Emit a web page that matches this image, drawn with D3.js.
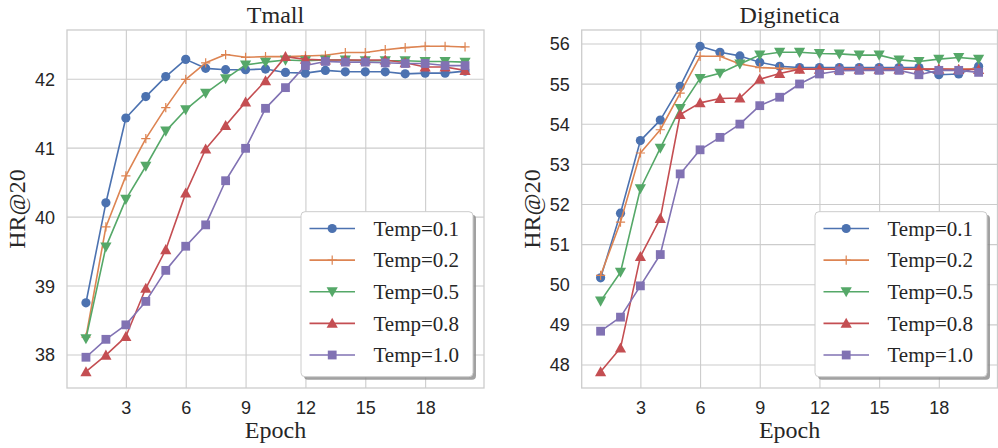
<!DOCTYPE html>
<html>
<head>
<meta charset="utf-8">
<script src="https://cdn.jsdelivr.net/npm/d3@7"></script>
<style>
  html, body { margin: 0; padding: 0; background: #fff; }
  svg { display: block; }
</style>
</head>
<body>
<svg id="chart" width="998" height="448"></svg>
<script>
// ---- data ----
const epochs = [1,2,3,4,5,6,7,8,9,10,11,12,13,14,15,16,17,18,19,20];
const seriesNames = ["Temp=0.1", "Temp=0.2", "Temp=0.5", "Temp=0.8", "Temp=1.0"];
const xTicks = [3, 6, 9, 12, 15, 18];
const tmallTicks = [38, 39, 40, 41, 42];
const digiTicks = [48, 49, 50, 51, 52, 53, 54, 55, 56];

const tmallT01 = [38.75, 40.20, 41.43, 41.74, 42.03, 42.28, 42.15, 42.13, 42.13, 42.14, 42.09, 42.08, 42.12, 42.10, 42.10, 42.10, 42.07, 42.08, 42.08, 42.11];
const tmallT02 = [38.25, 39.85, 40.59, 41.13, 41.58, 41.99, 42.23, 42.35, 42.31, 42.32, 42.32, 42.33, 42.34, 42.38, 42.38, 42.42, 42.45, 42.47, 42.47, 42.46];
const tmallT05 = [38.23, 39.56, 40.25, 40.73, 41.24, 41.55, 41.79, 42.00, 42.20, 42.24, 42.27, 42.26, 42.27, 42.27, 42.26, 42.26, 42.26, 42.25, 42.25, 42.24];
const tmallT08 = [37.75, 37.99, 38.26, 38.96, 39.52, 40.34, 40.98, 41.32, 41.66, 41.97, 42.32, 42.28, 42.27, 42.27, 42.27, 42.27, 42.23, 42.17, 42.17, 42.12];
const tmallT10 = [37.96, 38.22, 38.43, 38.77, 39.22, 39.57, 39.88, 40.52, 40.99, 41.57, 41.87, 42.19, 42.25, 42.24, 42.24, 42.23, 42.22, 42.22, 42.19, 42.19];

const digiT01 = [50.16, 51.77, 53.58, 54.09, 54.93, 55.93, 55.78, 55.69, 55.53, 55.43, 55.40, 55.40, 55.40, 55.40, 55.40, 55.40, 55.40, 55.22, 55.24, 55.43];
const digiT02 = [50.22, 51.55, 53.27, 53.85, 54.76, 55.68, 55.68, 55.49, 55.40, 55.38, 55.36, 55.36, 55.36, 55.36, 55.36, 55.36, 55.36, 55.36, 55.36, 55.37];
const digiT05 = [49.58, 50.30, 52.38, 53.39, 54.38, 55.13, 55.26, 55.49, 55.71, 55.78, 55.78, 55.75, 55.74, 55.71, 55.71, 55.59, 55.55, 55.61, 55.65, 55.61];
const digiT08 = [47.82, 48.41, 50.69, 51.64, 54.23, 54.52, 54.63, 54.64, 55.11, 55.25, 55.36, 55.36, 55.36, 55.36, 55.36, 55.36, 55.36, 55.36, 55.35, 55.35];
const digiT10 = [48.83, 49.18, 49.96, 50.74, 52.75, 53.35, 53.66, 53.99, 54.45, 54.66, 54.99, 55.24, 55.32, 55.33, 55.33, 55.33, 55.22, 55.33, 55.33, 55.28];

const colors = ["#4C72B0", "#DD8452", "#55A868", "#C44E52", "#8172B3"];
const markers = ["circle", "plus", "tridown", "triup", "square"];

const svg = d3.select("#chart");
const SERIF = "'Liberation Serif', 'Times New Roman', serif";
const SANS = "'Liberation Sans', Arial, sans-serif";
const TEXT = "#262626";
const GRID = "#cccccc";

function drawMarker(g, type, x, y, color) {
  if (type === "circle") {
    g.append("circle").attr("cx", x).attr("cy", y).attr("r", 4.6).attr("fill", color);
  } else if (type === "square") {
    g.append("rect").attr("x", x - 4.4).attr("y", y - 4.4).attr("width", 8.8).attr("height", 8.8).attr("fill", color);
  } else if (type === "triup") {
    const s = 5.6;
    g.append("path").attr("d", `M${x},${y - s}L${x + s},${y + s * 0.8}L${x - s},${y + s * 0.8}Z`).attr("fill", color);
  } else if (type === "tridown") {
    const s = 5.6;
    g.append("path").attr("d", `M${x},${y + s}L${x + s},${y - s * 0.8}L${x - s},${y - s * 0.8}Z`).attr("fill", color);
  } else if (type === "plus") {
    const s = 4.6;
    g.append("path").attr("d", `M${x - s},${y}L${x + s},${y}M${x},${y - s}L${x},${y + s}`)
      .attr("stroke", color).attr("stroke-width", 1.2).attr("fill", "none");
  }
}

function panel(opts) {
  const { left, right, top, bottom, title, yTicks, series } = opts;
  const all = series.flat();
  const mn = d3.min(all), mx = d3.max(all);
  const pad = (mx - mn) * 0.05;
  const x = d3.scaleLinear().domain([0.05, 20.95]).range([left, right]);
  const y = d3.scaleLinear().domain([mn - pad, mx + pad]).range([bottom, top]);
  const g = svg.append("g");

  // grid
  const xAxis = d3.axisBottom(x).tickValues(xTicks).tickSize(-(bottom - top)).tickPadding(13).tickFormat(d3.format("d"));
  const yAxis = d3.axisLeft(y).tickValues(yTicks).tickSize(-(right - left)).tickPadding(12).tickFormat(d3.format("d"));
  const gx = g.append("g").attr("transform", `translate(0,${bottom})`).call(xAxis);
  const gy = g.append("g").attr("transform", `translate(${left},0)`).call(yAxis);
  [gx, gy].forEach(a => {
    a.select(".domain").remove();
    a.selectAll(".tick line").attr("stroke", GRID).attr("stroke-width", 1.1);
    a.selectAll(".tick text").attr("fill", TEXT).attr("font-family", SANS).attr("font-size", 18);
  });
  gx.selectAll(".tick text").attr("dy", "0.71em");
  gy.selectAll(".tick text").attr("dy", "0.36em");

  // frame
  g.append("rect").attr("x", left).attr("y", top).attr("width", right - left).attr("height", bottom - top)
    .attr("fill", "none").attr("stroke", GRID).attr("stroke-width", 1.3);

  // lines
  const clipId = "clip" + Math.round(left);
  svg.append("clipPath").attr("id", clipId).append("rect")
    .attr("x", left - 8).attr("y", top - 8).attr("width", right - left + 16).attr("height", bottom - top + 16);
  const lg = g.append("g").attr("clip-path", `url(#${clipId})`);
  const line = d3.line().x((d, i) => x(epochs[i])).y(d => y(d));
  series.forEach((s, k) => {
    lg.append("path").datum(s).attr("d", line).attr("fill", "none")
      .attr("stroke", colors[k]).attr("stroke-width", 1.6).attr("stroke-linejoin", "round");
    s.forEach((v, i) => drawMarker(lg, markers[k], x(epochs[i]), y(v), colors[k]));
  });

  // title and labels
  const cx = (left + right) / 2;
  g.append("text").attr("x", cx).attr("y", 22.5).attr("text-anchor", "middle")
    .attr("font-family", SERIF).attr("font-size", 24).attr("fill", TEXT).text(title);
  g.append("text").attr("x", cx).attr("y", 437.5).attr("text-anchor", "middle")
    .attr("font-family", SERIF).attr("font-size", 24).attr("fill", TEXT).text("Epoch");
  g.append("text").attr("transform", `translate(${left - 42},${(top + bottom) / 2}) rotate(-90)`)
    .attr("text-anchor", "middle").attr("font-family", SERIF).attr("font-size", 24).attr("fill", TEXT).text("HR@20");

  // legend
  const lx = opts.legendX, lw = opts.legendW, ly = 211.7, lh = 165;
  const leg = g.append("g");
  leg.append("rect").attr("x", lx + 3).attr("y", ly + 3).attr("width", lw).attr("height", lh).attr("rx", 4)
    .attr("fill", "#8a8a8a").attr("opacity", 0.8);
  leg.append("rect").attr("x", lx).attr("y", ly).attr("width", lw).attr("height", lh).attr("rx", 4)
    .attr("fill", "#ffffff").attr("stroke", GRID).attr("stroke-width", 1);
  const rowY = d3.scaleLinear().domain([0, 4]).range([228.5, 355]);
  seriesNames.forEach((name, k) => {
    const ry = rowY(k);
    leg.append("line").attr("x1", lx + 8.5).attr("x2", lx + 54).attr("y1", ry).attr("y2", ry)
      .attr("stroke", colors[k]).attr("stroke-width", 1.6);
    drawMarker(leg, markers[k], lx + 31.2, ry, colors[k]);
    leg.append("text").attr("x", lx + 72.5).attr("y", ry + 7.2).attr("font-family", SERIF)
      .attr("font-size", 21).attr("fill", TEXT).text(name);
  });
}

panel({ left: 67, right: 484, top: 30, bottom: 388, title: "Tmall", yTicks: tmallTicks,
  series: [tmallT01, tmallT02, tmallT05, tmallT08, tmallT10], legendX: 301, legendW: 172 });
panel({ left: 581.7, right: 997.5, top: 30, bottom: 388, title: "Diginetica", yTicks: digiTicks,
  series: [digiT01, digiT02, digiT05, digiT08, digiT10], legendX: 815, legendW: 172 });
</script>
</body>
</html>
